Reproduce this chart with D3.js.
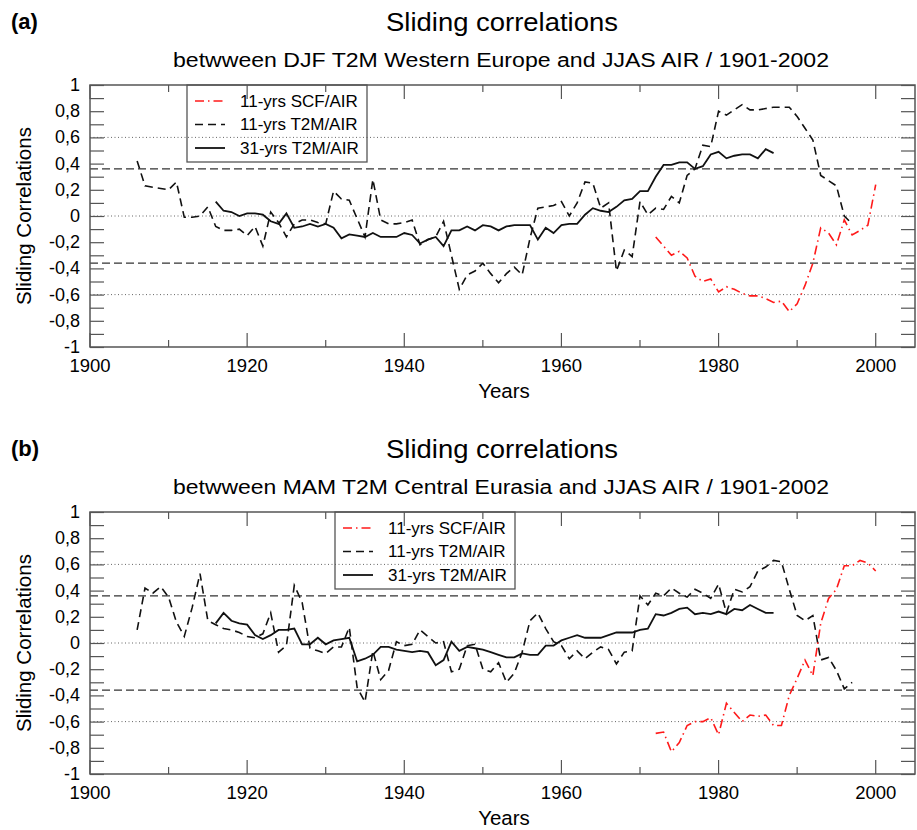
<!DOCTYPE html>
<html>
<head>
<meta charset="utf-8">
<script src="https://cdn.jsdelivr.net/npm/d3@7/dist/d3.min.js"></script>
<style>
  html, body { margin: 0; padding: 0; background: #fff; }
  svg { display: block; font-family: "Liberation Sans", Arial, Helvetica, sans-serif; }
</style>
</head>
<body>
<svg id="chart" width="917" height="830"></svg>
<script>
// ---------------- DATA ----------------
const xTickLabels = [1900, 1920, 1940, 1960, 1980, 2000];
const yTickLabels = [-1, -0.8, -0.6, -0.4, -0.2, 0, 0.2, 0.4, 0.6, 0.8, 1];
const seriesNames = ["11-yrs SCF/AIR", "11-yrs T2M/AIR", "31-yrs T2M/AIR"];
const dottedLevels = [0.6, 0, -0.6];
const dashedLevels = [0.36, -0.36];

const t2m11Start = 1906;   // 1906..1997
const t2m31Start = 1916;   // 1916..1987
const scfStart = 1972;     // 1972..2000

// Panel (a): DJF T2M Western Europe vs JJAS AIR
const a_t2m11 = [0.42, 0.23, 0.22, 0.21, 0.20, 0.26, -0.01, -0.01, 0.00, 0.07,
  -0.08, -0.11, -0.11, -0.10, -0.15, -0.08, -0.23, 0.03, -0.05, -0.16,
  -0.06, -0.03, -0.03, -0.05, -0.06, 0.19, 0.13, 0.12, -0.02, -0.16,
  0.28, -0.03, -0.06, -0.06, -0.05, -0.03, -0.22, -0.18, -0.16, -0.04,
  -0.30, -0.56, -0.45, -0.42, -0.36, -0.44, -0.51, -0.44, -0.39, -0.45,
  -0.17, 0.06, 0.07, 0.08, 0.11, 0.00, 0.10, 0.26, 0.25, 0.06,
  0.10, -0.42, -0.26, -0.31, 0.11, 0.01, 0.06, 0.05, 0.15, 0.10,
  0.31, 0.36, 0.54, 0.53, 0.80, 0.77, 0.81, 0.85, 0.81, 0.81,
  0.82, 0.83, 0.83, 0.83, 0.76, 0.67, 0.58, 0.31, 0.27, 0.23,
  0.00, -0.06];
const a_t2m31 = [0.11, 0.04, 0.03, 0.00, 0.02, 0.02, 0.01, -0.04, -0.06, 0.02,
  -0.09, -0.08, -0.06, -0.08, -0.06, -0.09, -0.17, -0.14, -0.15, -0.16,
  -0.13, -0.16, -0.16, -0.16, -0.13, -0.145, -0.21, -0.18, -0.16, -0.23,
  -0.11, -0.11, -0.08, -0.11, -0.07, -0.08, -0.11, -0.08, -0.07, -0.07,
  -0.07, -0.18, -0.09, -0.13, -0.07, -0.06, -0.06, 0.01, 0.06, 0.04,
  0.03, 0.07, 0.12, 0.13, 0.19, 0.19, 0.30, 0.39, 0.39, 0.41,
  0.41, 0.36, 0.38, 0.47, 0.49, 0.44, 0.46, 0.47, 0.47, 0.44,
  0.51, 0.48];
const a_scf = [-0.16, -0.23, -0.30, -0.27, -0.32, -0.46, -0.50, -0.48, -0.58, -0.54,
  -0.56, -0.59, -0.61, -0.61, -0.63, -0.66, -0.65, -0.73, -0.67, -0.53,
  -0.36, -0.09, -0.13, -0.22, -0.03, -0.145, -0.11, -0.07, 0.24];

// Panel (b): MAM T2M Central Eurasia vs JJAS AIR
const b_t2m11 = [0.10, 0.42, 0.38, 0.43, 0.35, 0.16, 0.05, 0.27, 0.53, 0.17,
  0.14, 0.11, 0.10, 0.08, 0.05, 0.04, 0.07, 0.23, -0.07, -0.02,
  0.44, 0.31, -0.04, -0.06, -0.08, -0.03, -0.03, 0.12, -0.34, -0.45,
  -0.06, -0.28, -0.21, 0.01, -0.02, -0.01, 0.10, 0.05, 0.00, 0.01,
  -0.22, -0.20, -0.02, -0.01, -0.20, -0.22, -0.15, -0.30, -0.23, -0.07,
  0.17, 0.23, 0.11, 0.01, -0.02, -0.12, -0.06, -0.12, -0.07, -0.03,
  -0.05, -0.16, -0.07, -0.06, 0.36, 0.29, 0.38, 0.36, 0.42, 0.38,
  0.35, 0.41, 0.38, 0.34, 0.45, 0.23, 0.41, 0.39, 0.43, 0.55,
  0.58, 0.63, 0.62, 0.41, 0.21, 0.17, 0.21, -0.13, -0.11, -0.21,
  -0.35, -0.30];
const b_t2m31 = [0.15, 0.23, 0.17, 0.15, 0.14, 0.06, 0.03, 0.06, 0.10, 0.10,
  0.11, -0.01, -0.01, 0.04, -0.01, 0.02, 0.03, 0.04, -0.14, -0.12,
  -0.09, -0.03, -0.03, -0.05, -0.06, -0.07, -0.06, -0.07, -0.17, -0.13,
  0.01, -0.06, -0.03, -0.04, -0.05, -0.07, -0.09, -0.11, -0.11, -0.08,
  -0.09, -0.09, -0.02, -0.02, 0.02, 0.04, 0.06, 0.04, 0.04, 0.04,
  0.06, 0.08, 0.08, 0.08, 0.10, 0.11, 0.22, 0.21, 0.23, 0.26,
  0.27, 0.22, 0.23, 0.22, 0.24, 0.22, 0.26, 0.25, 0.29, 0.26,
  0.23, 0.23];
const b_scf = [-0.69, -0.68, -0.83, -0.76, -0.63, -0.60, -0.60, -0.57, -0.70, -0.46,
  -0.53, -0.60, -0.55, -0.56, -0.55, -0.63, -0.63, -0.40, -0.27, -0.13,
  -0.25, 0.15, 0.34, 0.41, 0.59, 0.59, 0.63, 0.61, 0.55];

const panelLabels = ["(a)", "(b)"];
const titleText = "Sliding correlations";
const subtitles = [
  "betwween DJF T2M Western Europe and JJAS AIR / 1901-2002",
  "betwween MAM T2M Central Eurasia and JJAS AIR / 1901-2002"
];
const xLabel = "Years";
const yLabel = "Sliding Correlations";

// ---------------- DRAW ----------------
const svg = d3.select("#chart");
const left = 90, right = 915;
const frameColor = "#555";

const styles = [
  { stroke: "#ff1a1a", dash: "9,4,1.5,4", width: 1.6 },
  { stroke: "#111", dash: "8,5", width: 1.6 },
  { stroke: "#111", dash: null, width: 1.8 }
];

function toPoints(start, vals) {
  return vals.map((v, i) => ({ year: start + i, v: v }));
}

function fmt(v) {
  if (v === 0) return "0";
  return String(Math.round(v * 10) / 10).replace(".", ",");
}

function drawPanel(offsetY, idx, scf, t11, t31, legendLeft) {
  const top = 85 + offsetY, bottom = 347 + offsetY;
  const x = d3.scaleLinear().domain([1900, 2005]).range([left, right]);
  const y = d3.scaleLinear().domain([-1, 1]).range([bottom, top]);
  const g = svg.append("g");

  // panel letter & titles
  g.append("text").attr("x", 11).attr("y", 29 + offsetY)
    .attr("font-size", 22).attr("font-weight", "bold").text(panelLabels[idx]);
  g.append("text").attr("x", 502).attr("y", 31 + offsetY)
    .attr("text-anchor", "middle").attr("font-size", 26)
    .attr("textLength", 232).attr("lengthAdjust", "spacingAndGlyphs")
    .text(titleText);
  g.append("text").attr("x", 501).attr("y", 67 + offsetY)
    .attr("text-anchor", "middle").attr("font-size", 19.5)
    .attr("textLength", 656).attr("lengthAdjust", "spacingAndGlyphs")
    .text(subtitles[idx]);

  // reference lines
  dottedLevels.forEach(l => {
    g.append("line").attr("x1", left).attr("x2", right)
      .attr("y1", y(l)).attr("y2", y(l))
      .attr("stroke", "#666").attr("stroke-width", 1)
      .attr("stroke-dasharray", "1,2.5");
  });
  dashedLevels.forEach(l => {
    g.append("line").attr("x1", left).attr("x2", right)
      .attr("y1", y(l)).attr("y2", y(l))
      .attr("stroke", "#333").attr("stroke-width", 1.3)
      .attr("stroke-dasharray", "8,4");
  });

  // axes ticks (inside)
  const minorY = d3.range(-10, 11).map(d => d / 10);
  const yAxisL = d3.axisLeft(y).tickValues(minorY).tickSize(-14).tickFormat("");
  const yAxisR = d3.axisRight(y).tickValues(minorY).tickSize(-14).tickFormat("");
  const xMinor = d3.range(1900, 2006, 10);
  const axG = g.append("g");
  axG.append("g").attr("transform", `translate(${left},0)`).call(yAxisL);
  axG.append("g").attr("transform", `translate(${right},0)`).call(yAxisR);
  axG.selectAll(".domain").remove();
  axG.selectAll("line").attr("stroke", frameColor).attr("stroke-width", 1.2);
  xMinor.forEach(yr => {
    const len = (yr % 20 === 0) ? 14 : 7;
    g.append("line").attr("x1", x(yr)).attr("x2", x(yr))
      .attr("y1", bottom).attr("y2", bottom - len)
      .attr("stroke", frameColor).attr("stroke-width", 1.2);
    g.append("line").attr("x1", x(yr)).attr("x2", x(yr))
      .attr("y1", top).attr("y2", top + len)
      .attr("stroke", frameColor).attr("stroke-width", 1.2);
  });

  // frame
  g.append("rect").attr("x", left).attr("y", top)
    .attr("width", right - left).attr("height", bottom - top)
    .attr("fill", "none").attr("stroke", frameColor).attr("stroke-width", 1.5);

  // tick labels
  yTickLabels.forEach(v => {
    g.append("text").attr("x", 80).attr("y", y(v))
      .attr("text-anchor", "end").attr("dominant-baseline", "central")
      .attr("font-size", 18).text(fmt(v));
  });
  xTickLabels.forEach(v => {
    g.append("text").attr("x", x(v)).attr("y", bottom + 25)
      .attr("text-anchor", "middle").attr("font-size", 18.5).text(v);
  });

  // axis titles
  g.append("text").attr("x", 504).attr("y", bottom + 51)
    .attr("text-anchor", "middle").attr("font-size", 20.5).text(xLabel);
  g.append("text")
    .attr("transform", `translate(31,${(top + bottom) / 2}) rotate(-90)`)
    .attr("text-anchor", "middle").attr("font-size", 20.5).text(yLabel);

  // data lines
  const line = d3.line().x(d => x(d.year)).y(d => y(d.v));
  const data = [toPoints(scfStart, scf), toPoints(t2m11Start, t11), toPoints(t2m31Start, t31)];
  const order = [1, 2, 0];
  order.forEach(i => {
    const s = styles[i];
    g.append("path").datum(data[i]).attr("d", line)
      .attr("fill", "none").attr("stroke", s.stroke)
      .attr("stroke-width", s.width)
      .attr("stroke-dasharray", s.dash)
      .attr("stroke-linejoin", "miter");
  });

  // legend
  const lg = g.append("g");
  lg.append("rect").attr("x", legendLeft).attr("y", top)
    .attr("width", 180).attr("height", 77)
    .attr("fill", "none").attr("stroke", frameColor).attr("stroke-width", 1.3);
  seriesNames.forEach((name, i) => {
    const ry = top + 16 + i * 23.5;
    const s = styles[i];
    lg.append("line").attr("x1", legendLeft + 8).attr("x2", legendLeft + 38)
      .attr("y1", ry).attr("y2", ry)
      .attr("stroke", s.stroke).attr("stroke-width", s.width)
      .attr("stroke-dasharray", s.dash);
    lg.append("text").attr("x", legendLeft + 53).attr("y", ry)
      .attr("dominant-baseline", "central").attr("font-size", 17)
      .text(name);
  });
}

drawPanel(0, 0, a_scf, a_t2m11, a_t2m31, 187);
drawPanel(427, 1, b_scf, b_t2m11, b_t2m31, 335);
</script>
</body>
</html>
